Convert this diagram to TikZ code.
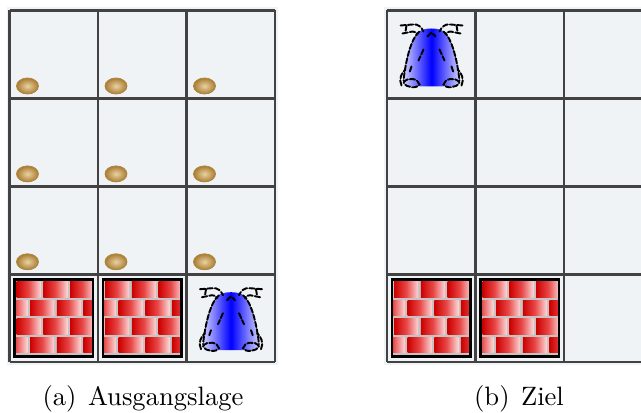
\documentclass[tikz,border=0pt]{standalone}
\definecolor{cellbg}{RGB}{239,243,246}
\definecolor{gridline}{RGB}{66,66,66}
\definecolor{mortar}{RGB}{200,194,194}
\definecolor{brickhi}{RGB}{252,214,214}
\definecolor{brickmid}{RGB}{232,70,70}
\definecolor{brickred}{RGB}{204,0,0}
\definecolor{coinlight}{RGB}{234,210,160}
\definecolor{coindark}{RGB}{168,124,52}
\definecolor{coinedge}{RGB}{176,134,60}
\definecolor{bugedge}{RGB}{215,215,255}

% one half of the beetle's outline; drawn twice, once mirrored
\newcommand{\kbughalfpaths}{%
  % side of the body
  \draw[bugline] (21,9) .. controls (12,16) and (7,40) .. (5,58);
  % antenna
  \draw[bugline] (2,3) -- (14,2) .. controls (20,1) and (23,5) .. (25,9);
  \draw[bugline] (4,11) -- (14,9) .. controls (17,9) and (18,10) .. (19,12);
  \draw[bugline] (8,3) -- (7,9);
  % back leg
  \draw[bugline] (3,63) .. controls (0,57) and (3,50) .. (7,47);
  \draw[bugline] (5,60) .. controls (9,54) and (20,56) .. (21,62)
                 .. controls (19,66) and (8,66) .. (5,60);
  % marks on the back
  \draw[bugline] (25,27) -- (20,38);
  \draw[bugline] (13,44) -- (11,50);
}

\tikzset{
  x=0.376pt, y=-0.376pt,
  gridln/.style={draw=gridline, line width=0.98pt},
  bugline/.style={black, line width=0.72pt, dash pattern=on 2pt off 0.8pt, line cap=round},
  % a seed lying in a cell
  kcoin/.pic={
    \shade[inner color=coinlight, outer color=coindark, draw=coinedge, line width=0.3pt]
      (0,0) ellipse [x radius=11, y radius=8];
  },
  % a brick wall filling a cell; with the flipped y axis the
  % horizontal shading runs mirrored, hence the colour order
  kwall/.pic={
    \fill[mortar] (6,6.5) rectangle (82.5,81.5);
    \begin{scope}
      \clip (6,6.5) rectangle (82.5,81.5);
      \foreach \r in {0,1,2,3}{
        \pgfmathsetmacro{\off}{mod(\r,2)==0 ? 0 : -13.35}
        \foreach \k in {0,1,2,3}{
          \shade[left color=brickred, right color=brickhi, middle color=brickmid]
            ({7.2+\off+26.7*\k},{7.7+18.4*\r}) rectangle ++(24,15.6);
        }
      }
    \end{scope}
    \draw[black, line width=0.94pt] (5,5.5) rectangle (83.5,82.5);
  },
  % the beetle
  kbug/.pic={
    \shade[left color=bugedge, right color=bugedge, middle color=blue]
      (21,9) .. controls (25,5) and (41,5) .. (45,9)
      .. controls (54,16) and (59,40) .. (61,58)
      .. controls (62,62) and (60,64) .. (56,64)
      -- (10,64)
      .. controls (6,64) and (4,62) .. (5,58)
      .. controls (7,40) and (12,16) .. (21,9) -- cycle;
    \kbughalfpaths
    \begin{scope}[cm={-1,0,0,1,(66,0)}]
      \kbughalfpaths
    \end{scope}
    \draw[bugline] (29,14) -- (33,10) -- (37,14);
  }
}

\begin{document}
\begin{tikzpicture}
  \useasboundingbox (0,0) rectangle (641,413);
  \clip (0,0) rectangle (641,413);
  \fill[white] (0,0) rectangle (641,413);

  % background of both worlds
  \fill[cellbg] (6.5,7.5) rectangle (278,365);
  \fill[cellbg] (383.5,7.5) rectangle (660,365);

  % seeds in the starting world
  \foreach \i in {0,1,2}{
    \foreach \j in {0,1,2}{
      \pic at ({9.5+88.5*\i+18},{10.5+87.9*\j+75.5}) {kcoin};
    }
  }

  % walls in both worlds
  \foreach \gx in {9.5,387}{
    \foreach \i in {0,1}{
      \pic at ({\gx+88.5*\i},274.2) {kwall};
    }
  }

  % beetle: start and goal position
  \pic at ({9.5+2*88.5+11.5},{274.2+12}) {kbug};
  \pic at ({387+11.5},{10.5+12}) {kbug};

  % grid lines of both worlds
  \foreach \gx in {9.5,387}{
    \foreach \i in {0,1,2,3}{
      \draw[gridln] ({\gx+88.5*\i},10.5) -- ({\gx+88.5*\i},362.1);
    }
    \foreach \j in {0,1,2,3,4}{
      \draw[gridln] (\gx,{10.5+87.9*\j}) -- ({\gx+3*88.5},{10.5+87.9*\j});
    }
  }

  % captions
  \node[anchor=base, inner sep=0pt] (capa) at (143,405) {(a)\hspace{4.3pt}Ausgangslage};
  \node[anchor=base, inner sep=0pt] (capb) at (519,405) {(b)\hspace{4.3pt}Ziel};
\end{tikzpicture}
\end{document}
